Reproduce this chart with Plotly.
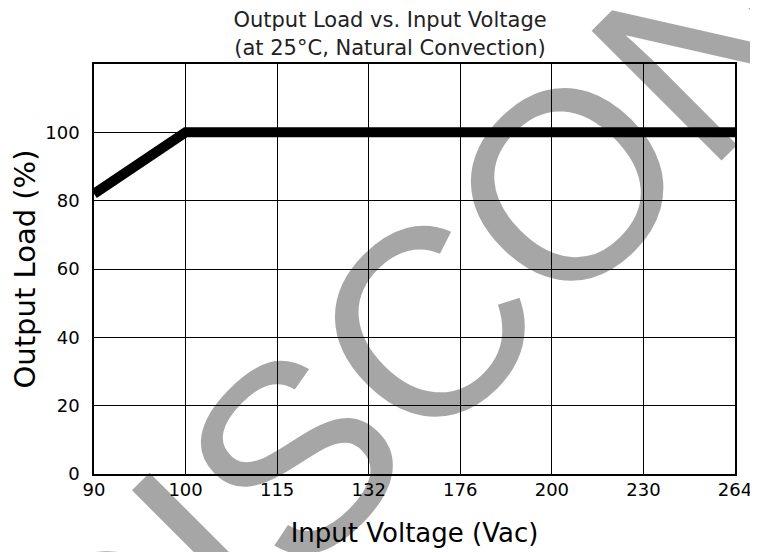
import plotly.graph_objects as go

# Data
voltage_labels = ["90", "100", "115", "132", "176", "200", "230", "264"]
output_load = [82, 100, 100, 100, 100, 100, 100, 100]
y_ticks = [0, 20, 40, 60, 80, 100]

title_text = "Output Load vs. Input Voltage<br>(at 25°C, Natural Convection)"
x_title = "Input Voltage (Vac)"
y_title = "Output Load (%)"
watermark = "DISCONTINUED"

FONT = "DejaVu Sans, Verdana, sans-serif"

fig = go.Figure()
fig.add_trace(go.Scatter(
    x=voltage_labels, y=output_load, mode="lines",
    line=dict(color="black", width=10),
    showlegend=False, hoverinfo="skip",
))

fig.update_layout(
    width=758, height=552,
    margin=dict(l=86, r=31, t=56, b=86),
    paper_bgcolor="white", plot_bgcolor="white",
    font=dict(family=FONT, color="black"),
    title=dict(text=title_text, x=0.504, xanchor="center", xref="container",
               y=0.965, yanchor="top", yref="container",
               font=dict(family=FONT, size=21, color="#222")),
    xaxis=dict(
        type="category", categoryorder="array", categoryarray=voltage_labels,
        range=[0, len(voltage_labels) - 1],
        showgrid=True, gridcolor="black", gridwidth=1,
        showline=True, linecolor="black", linewidth=1.5, mirror=True,
        ticks="", ticklabelstandoff=-1,
        tickfont=dict(size=18),
        title=dict(text=x_title, font=dict(size=26), standoff=24),
        zeroline=False, automargin=False,
    ),
    yaxis=dict(
        range=[0, 120], tickvals=y_ticks,
        showgrid=True, gridcolor="black", gridwidth=1,
        showline=True, linecolor="black", linewidth=1.5, mirror=True,
        ticks="outside", ticklen=9, tickcolor="rgba(0,0,0,0)",
        tickfont=dict(size=18),
        title=dict(text=y_title, font=dict(size=29), standoff=6),
        zeroline=False, automargin=False,
    ),
    annotations=[dict(
        text=watermark, xref="paper", yref="paper", x=1.04, y=1.18,
        xanchor="center", yanchor="middle", showarrow=False, textangle=-45,
        font=dict(family="Liberation Sans, Arial, sans-serif", size=267,
                  color="rgba(0,0,0,0.35)"),
    )],
)

fig.write_html("out.html")
